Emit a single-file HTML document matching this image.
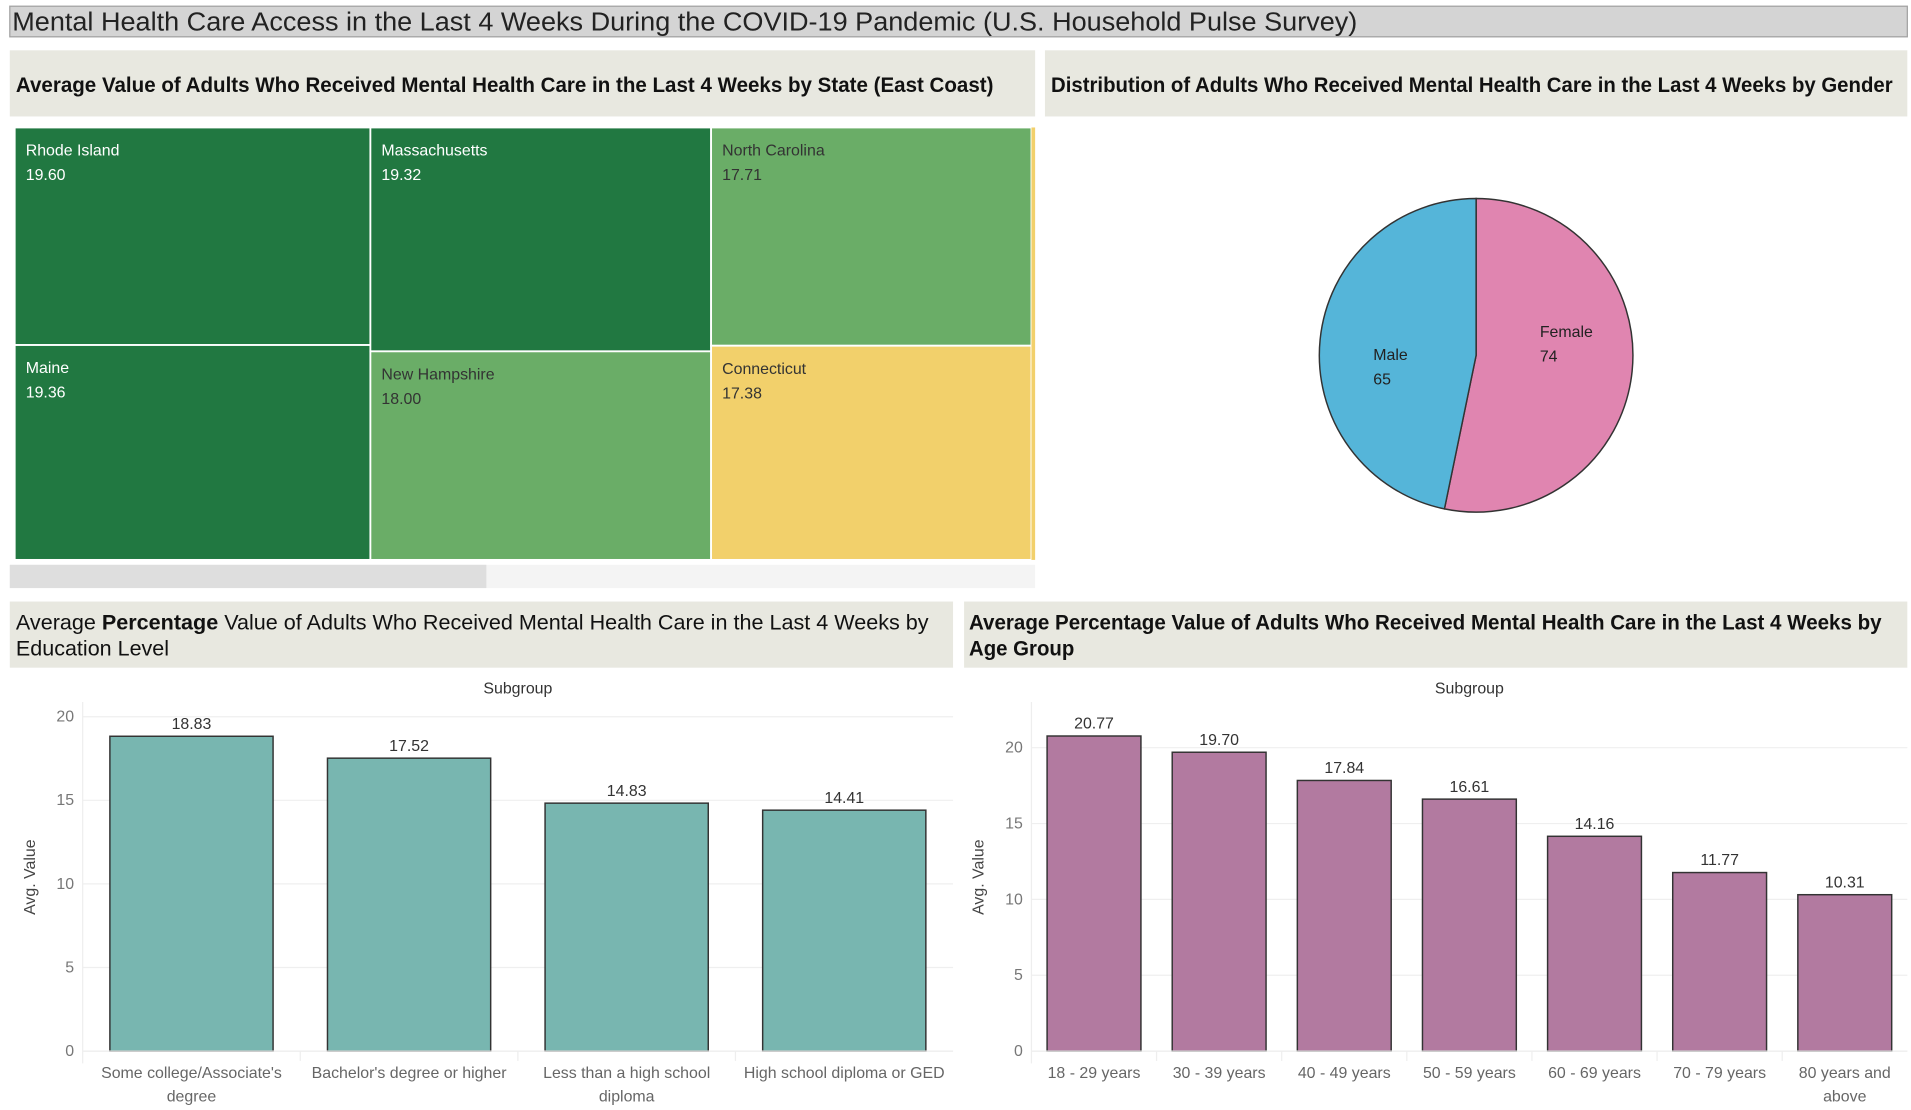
<!DOCTYPE html>
<html><head><meta charset="utf-8"><style>
html,body{margin:0;padding:0;background:#fff;}
svg{display:block;}
text{font-family:"Liberation Sans",sans-serif;}
</style></head><body>
<svg id="root" width="1911" height="1110" viewBox="0 0 1560 906" xmlns="http://www.w3.org/2000/svg">
<g>
<rect x="8" y="5" width="1549" height="25" fill="#d4d4d4" stroke="#a0a0a0" stroke-width="1"/>
<text x="10" y="25" font-size="21" fill="#222" textLength="1098" lengthAdjust="spacingAndGlyphs">Mental Health Care Access in the Last 4 Weeks During the COVID-19 Pandemic (U.S. Household Pulse Survey)</text>
</g>
<g>
<rect x="8" y="41" width="837" height="54" fill="#e8e8e0"/>
<text x="13" y="75" font-size="17" font-weight="bold" fill="#111" textLength="798" lengthAdjust="spacingAndGlyphs">Average Value of Adults Who Received Mental Health Care in the Last 4 Weeks by State (East Coast)</text>
</g>
<g>
<rect x="853" y="41" width="704" height="54" fill="#e8e8e0"/>
<text x="858" y="75" font-size="17" font-weight="bold" fill="#111" textLength="687" lengthAdjust="spacingAndGlyphs">Distribution of Adults Who Received Mental Health Care in the Last 4 Weeks by Gender</text>
</g>
<g id="treemap"></g>
<g>
<rect x="8" y="461" width="837" height="19" fill="#f4f4f4"/>
<rect x="8" y="461" width="389" height="19" fill="#dedede"/>
</g>
<g id="pie"></g>
<g>
<rect x="8" y="491" width="770" height="54" fill="#e8e8e0"/>
<text x="13" y="514" font-size="17" fill="#111" textLength="745" lengthAdjust="spacingAndGlyphs">Average <tspan font-weight="bold">Percentage</tspan> Value of Adults Who Received Mental Health Care in the Last 4 Weeks by</text>
<text x="13" y="535" font-size="17" fill="#111" textLength="125" lengthAdjust="spacingAndGlyphs">Education Level</text>
</g>
<g>
<rect x="787" y="491" width="770" height="54" fill="#e8e8e0"/>
<text x="791" y="514" font-size="17" font-weight="bold" fill="#111" textLength="745" lengthAdjust="spacingAndGlyphs">Average Percentage Value of Adults Who Received Mental Health Care in the Last 4 Weeks by</text>
<text x="791" y="535" font-size="17" font-weight="bold" fill="#111" textLength="86" lengthAdjust="spacingAndGlyphs">Age Group</text>
</g>
<g id="edu"></g>
<g id="age"></g>
</svg>
<script>
const NS="http://www.w3.org/2000/svg";
// treemap data
const stateNames=["Rhode Island","Maine","Massachusetts","New Hampshire","North Carolina","Connecticut"];
const stateValues=[19.60,19.36,19.32,18.00,17.71,17.38];
// pie data
const genderNames=["Female","Male"];
const genderValues=[74,65];
// education chart data
const eduCats=[["Some college/Associate's","degree"],["Bachelor's degree or higher"],["Less than a high school","diploma"],["High school diploma or GED"]];
const eduValues=[18.83,17.52,14.83,14.41];
// age chart data
const ageCats=[["18 - 29 years"],["30 - 39 years"],["40 - 49 years"],["50 - 59 years"],["60 - 69 years"],["70 - 79 years"],["80 years and","above"]];
const ageValues=[20.77,19.70,17.84,16.61,14.16,11.77,10.31];
const yTicks=[0,5,10,15,20];

function mk(tag,attrs,parent,txt){const e=document.createElementNS(NS,tag);for(const k in attrs)e.setAttribute(k,attrs[k]);if(txt!==undefined)e.textContent=txt;parent.appendChild(e);return e;}

(function(){
  const g=document.getElementById('treemap');
  const X0=12,X1=842,Y0=104,Y1=457;
  const total=stateValues.reduce((a,b)=>a+b,0);
  function color(v){return v>=19?'#217841':(v>=17.6?'#6aad67':'#f2d06b');}
  let x=X0;
  for(let c=0;c<3;c++){
    const a=stateValues[2*c],b=stateValues[2*c+1];
    const w=(X1-X0)*(a+b)/total;
    const h1=(Y1-Y0)*a/(a+b);
    [[a,Y0,h1,2*c],[b,Y0+h1,(Y1-Y0)-h1,2*c+1]].forEach(([v,y,h,i])=>{
      const r=mk('rect',{x:x,y:y,width:w,height:h,fill:color(v),stroke:'#fff','stroke-width':1.5},g);
      
      
      const fc=v>=19?'#fff':'#333';
      const t1=mk('text',{x:x+9,y:y+23,'font-size':13,fill:fc},g,stateNames[i]);
      
      
      const t2=mk('text',{x:x+9,y:y+43,'font-size':13,fill:fc},g,v.toFixed(2));
      
      
    });
    x+=w;
  }
  const strip=mk('rect',{x:842,y:104,width:3,height:353,fill:'#f2d06b'},g);
  
  
})();

(function(){
  const g=document.getElementById('pie');
  const cx=1205,cy=290,r=128;
  const total=genderValues.reduce((a,b)=>a+b,0);
  const cols=['#e085b0','#55b5d9'];
  let a0=0;
  genderValues.forEach((v,i)=>{
    const a1=a0+v/total*2*Math.PI;
    const p=(a)=>[cx+r*Math.sin(a),cy-r*Math.cos(a)];
    const [x0,y0]=p(a0),[x1,y1]=p(a1);
    const large=(a1-a0)>Math.PI?1:0;
    const s=mk('path',{d:`M${cx},${cy} L${x0},${y0} A${r},${r} 0 ${large} 1 ${x1},${y1} Z`,fill:cols[i],stroke:'#333','stroke-width':1.2},g);
    
    
    const t1=mk('text',{x:i==0?1257:1121,y:i==0?275:294,'font-size':13,fill:'#222'},g,genderNames[i]);
    
    
    const t2=mk('text',{x:i==0?1257:1121,y:i==0?295:314,'font-size':13,fill:'#222'},g,String(v));
    
    
    a0=a1;
  });
})();

function barChart(id,cats,vals,o){
  const g=document.getElementById(id);
  const y=v=>o.y0-(o.y0-o.y20)*v/20;
  const band=(o.x1-o.x0)/cats.length;
  const t=mk('text',{x:(o.x0+o.x1)/2,y:566,'font-size':13,fill:'#333','text-anchor':'middle'},g,'Subgroup');
  
  
  yTicks.forEach(v=>{
    const l=mk('line',{x1:o.x0,x2:o.x1,y1:y(v),y2:y(v),stroke:'#efefef','stroke-width':1},g);
    
    
    const tl=mk('text',{x:o.x0-7,y:y(v)+4,'font-size':13,fill:'#777','text-anchor':'end'},g,String(v));
    
    
  });
  const ax=mk('line',{x1:o.x0,x2:o.x0,y1:573,y2:868,stroke:'#eee'},g);
  
  
  const yt=mk('text',{x:0,y:0,'font-size':13,fill:'#444','text-anchor':'middle',transform:`translate(${o.x0-39},716) rotate(-90)`},g,'Avg. Value');
  
  
  cats.forEach((c,i)=>{
    const bx=o.x0+band*i+band*(1-o.bw)/2, bw=band*o.bw;
    const b=mk('rect',{x:bx,y:y(vals[i]),width:bw,height:o.y0-y(vals[i]),fill:o.color,stroke:'#333','stroke-width':1.2},g);
    
    
    const vl=mk('text',{x:bx+bw/2,y:y(vals[i])-6,'font-size':13,fill:'#333','text-anchor':'middle'},g,vals[i].toFixed(2));
    
    
    if(i>0){const sep=mk('line',{x1:o.x0+band*i,x2:o.x0+band*i,y1:o.y0,y2:o.y0+8,stroke:'#eee'},g);
      
      }
    c.forEach((ln,j)=>{
      const cl=mk('text',{x:o.x0+band*(i+0.5),y:880+j*19,'font-size':13,fill:'#666','text-anchor':'middle'},g,ln);
      
      
    });
  });
  const base=mk('line',{x1:o.x0,x2:o.x1,y1:o.y0,y2:o.y0,stroke:'#eee'},g);
  
  
}
barChart('edu',eduCats,eduValues,{x0:67.5,x1:778,y0:858,y20:585,bw:0.75,color:'#78b6b0'});
barChart('age',ageCats,ageValues,{x0:842,x1:1557,y0:858,y20:610.3,bw:0.75,color:'#b27aa0'});
</script>
</body></html>
